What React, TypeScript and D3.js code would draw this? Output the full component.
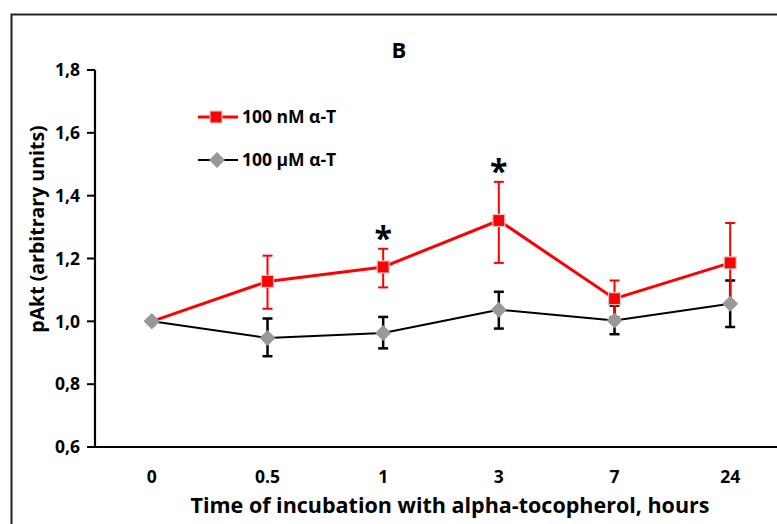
import * as d3 from "d3";

const W = 777;
const H = 524;
const FONT = "'Open Sans', 'Noto Sans', sans-serif";

const hours = ["0", "0.5", "1", "3", "7", "24"];
const nmMean = [1.0, 1.127, 1.173, 1.321, 1.072, 1.186];
const nmLow = [1.0, 1.04, 1.108, 1.186, 1.014, 1.06];
const nmHigh = [1.0, 1.209, 1.231, 1.444, 1.13, 1.313];
const umMean = [1.0, 0.947, 0.963, 1.037, 1.003, 1.056];
const umLow = [1.0, 0.889, 0.914, 0.977, 0.959, 0.982];
const umHigh = [1.0, 1.009, 1.014, 1.094, 1.05, 1.13];
const yTicks = [0.6, 0.8, 1.0, 1.2, 1.4, 1.6, 1.8];
const starred = ["1", "3"];

const x = d3.scalePoint<string>().domain(hours).range([94, 788]).padding(0.5);
const y = d3.scaleLinear().domain([0.6, 1.8]).range([447, 70]);
const fmt = (v: number) => d3.format(".1f")(v).replace(".", ",");

type Row = { h: string; m: number; lo: number; hi: number };
const rows = (m: number[], lo: number[], hi: number[]): Row[] =>
  hours.map((h, i) => ({ h, m: m[i], lo: lo[i], hi: hi[i] }));
const nmRows = rows(nmMean, nmLow, nmHigh);
const umRows = rows(umMean, umLow, umHigh);

const line = d3
  .line<Row>()
  .x((d) => x(d.h)!)
  .y((d) => y(d.m));

function ErrorBars({ data, color, width }: { data: Row[]; color: string; width: number }) {
  return (
    <g stroke={color} strokeWidth={width}>
      {data
        .filter((d) => d.hi > d.lo)
        .map((d) => {
          const cx = x(d.h)!;
          return (
            <g key={d.h}>
              <line x1={cx} x2={cx} y1={y(d.hi)} y2={y(d.lo)} />
              <line x1={cx - 5} x2={cx + 5} y1={y(d.hi)} y2={y(d.hi)} />
              <line x1={cx - 5} x2={cx + 5} y1={y(d.lo)} y2={y(d.lo)} />
            </g>
          );
        })}
    </g>
  );
}

const square = (cx: number, cy: number) => (
  <rect x={cx - 6} y={cy - 6} width={12} height={12} fill="#ff0000" stroke="#d9c7c7" strokeWidth={1.2} />
);
const diamond = (cx: number, cy: number) => (
  <path d={`M${cx},${cy - 8}L${cx + 8},${cy}L${cx},${cy + 8}L${cx - 8},${cy}Z`} fill="#999999" />
);

export default function App() {
  return (
    <svg
      width={W}
      height={H}
      style={{ position: "absolute", left: 0, top: 0, background: "#fff" }}
      fontFamily={FONT}
      fontWeight="bold"
    >
      {/* frame */}
      <path d={`M11.5,${H}V14.5H${W}`} fill="none" stroke="#222" strokeWidth={2} />

      <text x={399} y={58} textAnchor="middle" fontSize={22}>
        B
      </text>

      {/* y axis */}
      <line x1={95} x2={95} y1={y(1.8)} y2={y(0.6)} stroke="#000" strokeWidth={2.2} />
      {yTicks.map((t) => (
        <g key={t}>
          <line x1={87} x2={95} y1={y(t)} y2={y(t)} stroke="#000" strokeWidth={2} />
          <text x={80} y={y(t)} dy="0.36em" textAnchor="end" fontSize={17.5}>
            {fmt(t)}
          </text>
        </g>
      ))}
      <text
        transform={`translate(44,229) rotate(-90)`}
        textAnchor="middle"
        fontSize={19.5}
      >
        pAkt (arbitrary units)
      </text>

      {/* x axis */}
      <line x1={95} x2={W} y1={447} y2={447} stroke="#000" strokeWidth={2.2} />
      {hours.map((h) => (
        <text key={h} x={x(h)} y={483} textAnchor="middle" fontSize={17.5}>
          {h}
        </text>
      ))}
      <text x={450} y={513} textAnchor="middle" fontSize={21.5}>
        Time of incubation with alpha-tocopherol, hours
      </text>

      {/* series */}
      <path d={line(umRows)!} fill="none" stroke="#000" strokeWidth={2} />
      <ErrorBars data={umRows} color="#000" width={2.5} />
      <path d={line(nmRows)!} fill="none" stroke="#ff0000" strokeWidth={3} />
      <ErrorBars data={nmRows} color="#ff0000" width={2} />
      {umRows.map((d) => <g key={d.h}>{diamond(x(d.h)!, y(d.m))}</g>)}
      {nmRows.slice(1).map((d) => <g key={d.h}>{square(x(d.h)!, y(d.m))}</g>)}
      {umRows.slice(0, 1).map((d) => <g key={d.h}>{diamond(x(d.h)!, y(d.m))}</g>)}

      {starred.map((h) => {
        const r = nmRows.find((d) => d.h === h)!;
        return (
          <text key={h} x={x(h)} y={y(r.hi) + 1} textAnchor="middle" fontSize={32}>
            *
          </text>
        );
      })}

      {/* legend */}
      <line x1={198} x2={238} y1={117} y2={117} stroke="#ff0000" strokeWidth={3} />
      {square(216, 117)}
      <text x={242} y={117} dy="0.36em" fontSize={17.5}>
        100 nM α-T
      </text>
      <line x1={198} x2={238} y1={160} y2={160} stroke="#000" strokeWidth={2} />
      {diamond(217, 160)}
      <text x={242} y={160} dy="0.36em" fontSize={17.5}>
        100 μM α-T
      </text>
    </svg>
  );
}
